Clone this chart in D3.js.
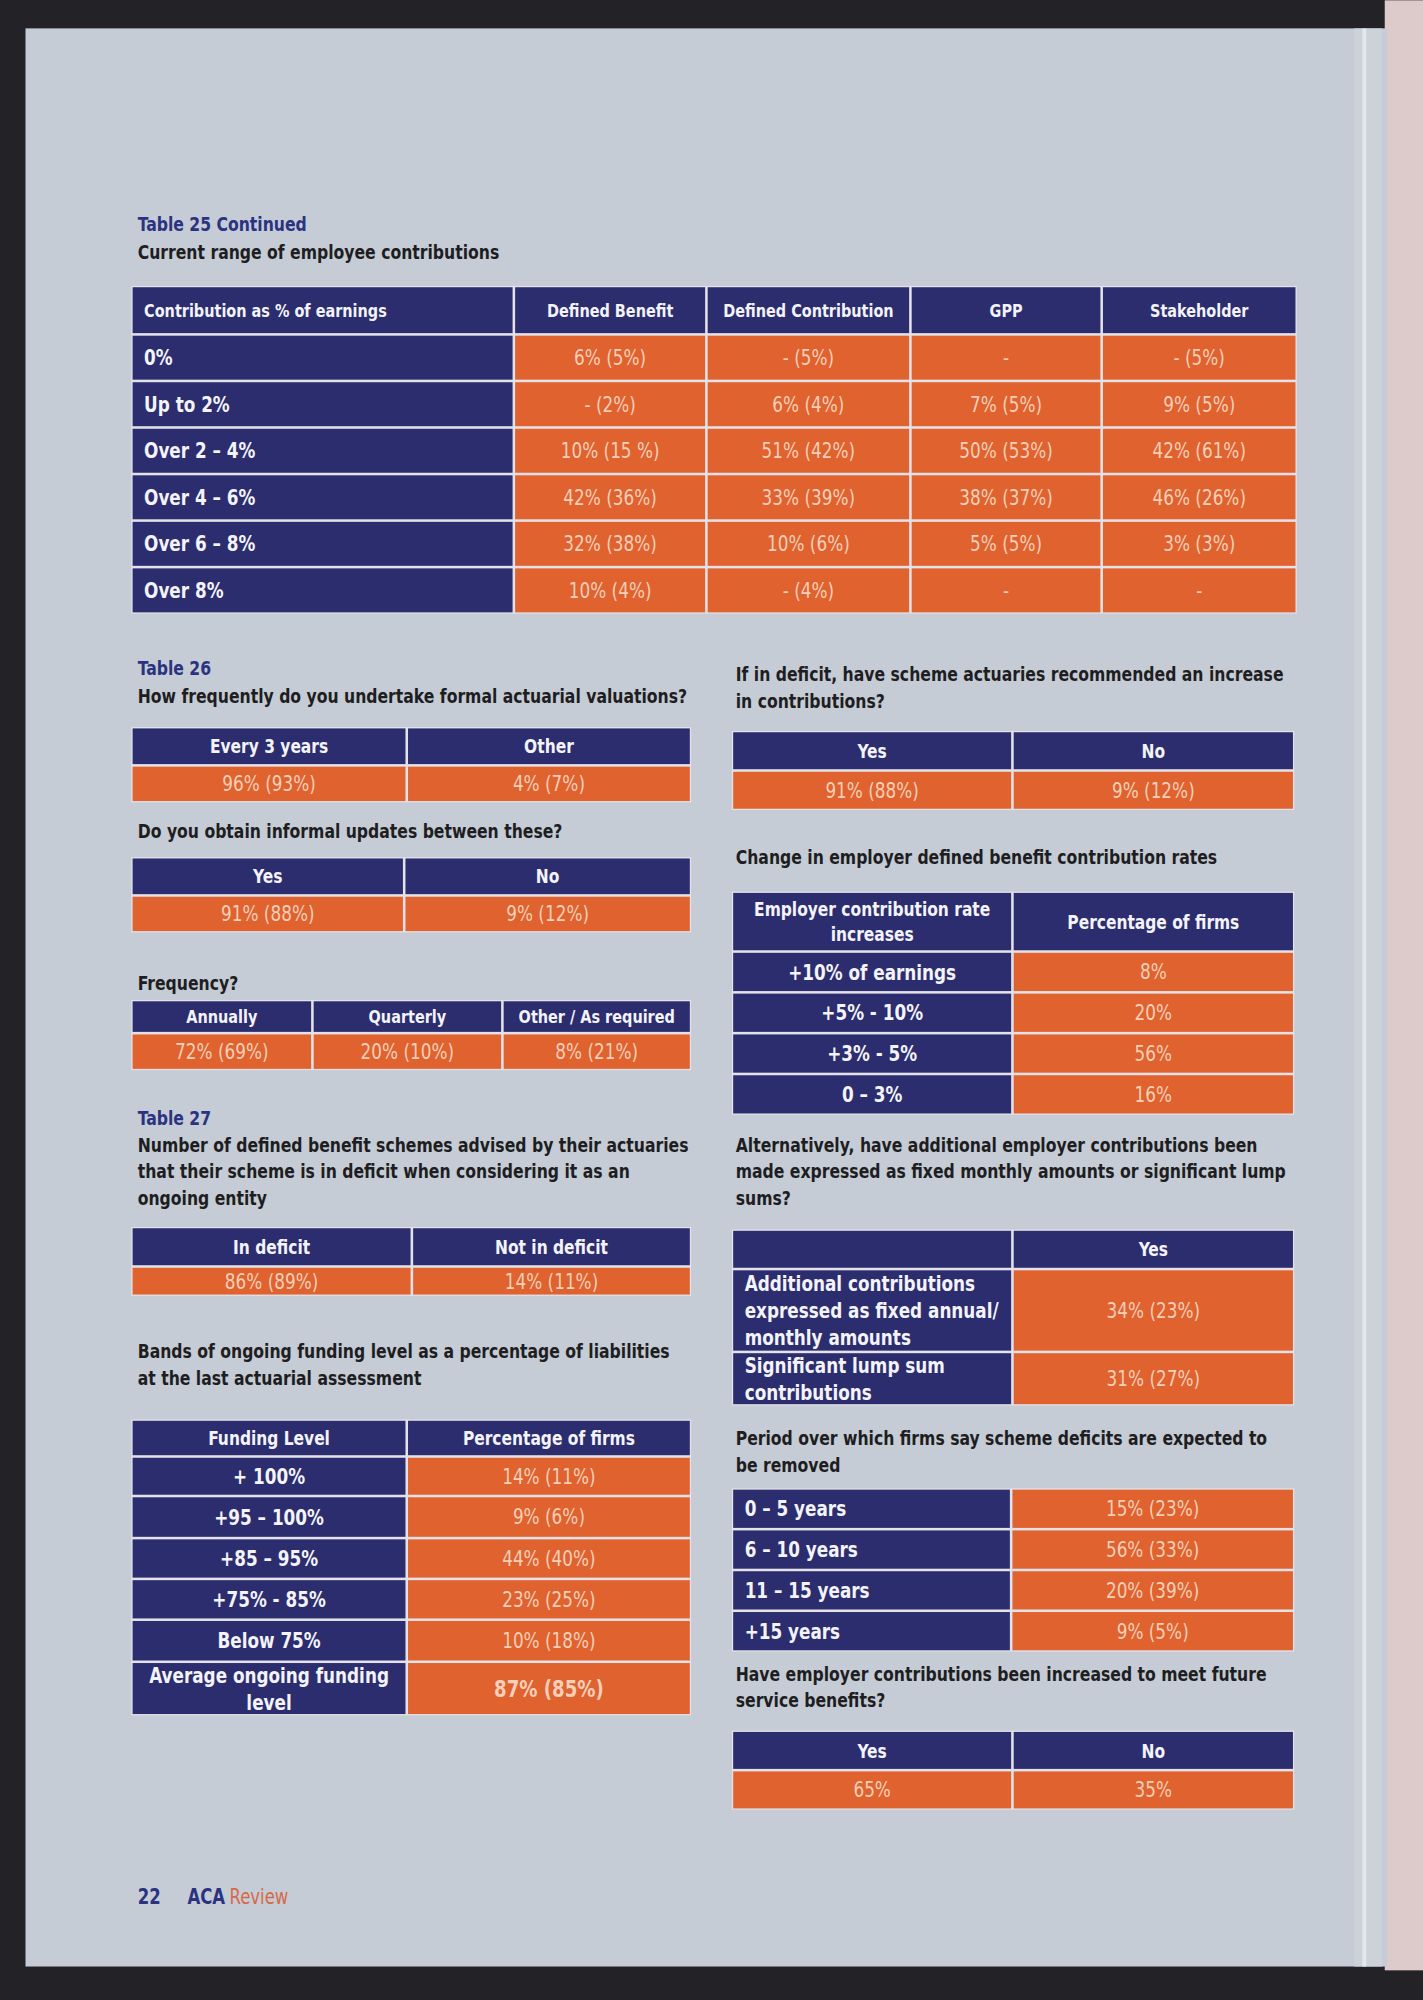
<!DOCTYPE html>
<html>
<head>
<meta charset="utf-8">
<script src="https://cdn.jsdelivr.net/npm/d3@7"></script>
<style>
  html, body { margin: 0; padding: 0; background: #222226; }
  svg { display: block; }
  text { font-family: "Liberation Sans Narrow", "DejaVu Sans Condensed", "Arial Narrow", sans-serif; font-stretch: condensed; }
</style>
</head>
<body>
<div id="page"></div>
<script>
    // table 25 - current range of employee contributions
    const t25Columns = ["Contribution as % of earnings", "Defined Benefit", "Defined Contribution", "GPP", "Stakeholder"];
    const t25Bands = ["0%", "Up to 2%", "Over 2 – 4%", "Over 4 – 6%", "Over 6 – 8%", "Over 8%"];
    const t25DB = ["6% (5%)", "- (2%)", "10% (15 %)", "42% (36%)", "32% (38%)", "10% (4%)"];
    const t25DC = ["- (5%)", "6% (4%)", "51% (42%)", "33% (39%)", "10% (6%)", "- (4%)"];
    const t25GPP = ["-", "7% (5%)", "50% (53%)", "38% (37%)", "5% (5%)", "-"];
    const t25Stake = ["- (5%)", "9% (5%)", "42% (61%)", "46% (26%)", "3% (3%)", "-"];

    // table 26
    const valFreqCols = ["Every 3 years", "Other"];
    const valFreqVals = ["96% (93%)", "4% (7%)"];
    const informalCols = ["Yes", "No"];
    const informalVals = ["91% (88%)", "9% (12%)"];
    const freqCols = ["Annually", "Quarterly", "Other / As required"];
    const freqVals = ["72% (69%)", "20% (10%)", "8% (21%)"];

    // table 27
    const deficitCols = ["In deficit", "Not in deficit"];
    const deficitVals = ["86% (89%)", "14% (11%)"];
    const fundingHead = ["Funding Level", "Percentage of firms"];
    const fundingBands = ["+ 100%", "+95 – 100%", "+85 – 95%", "+75% - 85%", "Below 75%", "Average ongoing funding\nlevel"];
    const fundingVals = ["14% (11%)", "9% (6%)", "44% (40%)", "23% (25%)", "10% (18%)", "87% (85%)"];

    // right column
    const recommendCols = ["Yes", "No"];
    const recommendVals = ["91% (88%)", "9% (12%)"];
    const rateHead = ["Employer contribution rate\nincreases", "Percentage of firms"];
    const rateBands = ["+10% of earnings", "+5% - 10%", "+3% - 5%", "0 – 3%"];
    const rateVals = ["8%", "20%", "56%", "16%"];
    const extraHead = ["", "Yes"];
    const extraTypes = ["Additional contributions\nexpressed as fixed annual/\nmonthly amounts", "Significant lump sum\ncontributions"];
    const extraVals = ["34% (23%)", "31% (27%)"];
    const periodBands = ["0 – 5 years", "6 – 10 years", "11 – 15 years", "+15 years"];
    const periodVals = ["15% (23%)", "56% (33%)", "20% (39%)", "9% (5%)"];
    const futureCols = ["Yes", "No"];
    const futureVals = ["65%", "35%"];

    // colours
    const navy = "#2b2d6e", orange = "#e0622e", peach = "#f5cfb9", rule = "#e4e2e8";
    const pageBg = "#c5ccd5", ink = "#1e1e22", titleBlue = "#2b3381";

    // drawing in scan units, scaled up to the window
    const W = 1116, H = 1568;
    const svg = d3.select("#page").append("svg")
        .attr("width", 1423).attr("height", 2000)
        .attr("viewBox", "0 0 " + W + " " + H);

    svg.append("rect").attr("width", W).attr("height", H).attr("fill", "#232327");
    svg.append("rect").attr("x", 1086).attr("y", 0).attr("width", 30).attr("height", 1545).attr("fill", "#dccbca");
    svg.append("rect").attr("x", 20).attr("y", 22).attr("width", 1068).attr("height", 1520).attr("fill", pageBg);
    svg.append("rect").attr("x", 1062).attr("y", 22).attr("width", 22).attr("height", 1520).attr("fill", "#cdd2d9");
    svg.append("line").attr("x1", 1070).attr("x2", 1070).attr("y1", 22).attr("y2", 1542)
        .attr("stroke", "#e4e7ec").attr("stroke-width", 3);

    // the print face is condensed, so each text block is squeezed sideways
    function block(parent, x, y, lines, o) {
        const t = parent.append("text")
            .attr("transform", "translate(" + x + "," + y + ") scale(" + o.f + ",1)")
            .attr("text-anchor", o.anchor || "start")
            .attr("fill", o.color).attr("font-size", o.size).attr("font-weight", o.weight || "bold");
        lines.forEach((l, i) => t.append("tspan").attr("x", 0).attr("dy", i ? o.lh : 0).text(l));
        return t;
    }

    function heading(x, y, lines, color) {
        block(svg, x, y, lines, {f: 0.88, color, size: 15.5, lh: 20.8});
    }

    const styles = {
        h: {fill: navy, color: "#f3f3f8", size: 15.5, weight: "bold", f: 0.87},
        hs: {fill: navy, color: "#f3f3f8", size: 14, weight: "bold", f: 0.9},
        l: {fill: navy, color: "#f3f3f8", size: 16.5, weight: "bold", f: 0.89},
        v: {fill: orange, color: peach, size: 16, weight: "normal", f: 0.92},
        vb: {fill: orange, color: peach, size: 18, weight: "bold", f: 0.88}
    };

    // generic table: cols = relative widths, rows = heights, cells[r][c] = {t, k, a}
    function drawTable(o) {
        const g = svg.append("g");
        const colEdge = Array.from(d3.cumsum([0].concat(o.cols)));
        const rowEdge = Array.from(d3.cumsum([0].concat(o.rows)));
        const x = d3.scaleLinear().domain([0, d3.sum(o.cols)]).range([o.x0, o.x1]);
        const y = d3.scaleLinear().domain([0, d3.sum(o.rows)]).range([o.y0, o.y0 + d3.sum(o.rows)]);

        g.append("rect").attr("x", x(0)).attr("y", y(0))
            .attr("width", x(d3.sum(o.cols)) - x(0)).attr("height", y(d3.sum(o.rows)) - y(0))
            .attr("fill", rule);

        const flat = [];
        o.cells.forEach((row, r) => row.forEach((d, c) => flat.push(Object.assign({r, c}, d))));

        g.selectAll("rect.cell").data(flat).join("rect")
            .attr("class", "cell")
            .attr("x", d => x(colEdge[d.c]) + 1)
            .attr("y", d => y(rowEdge[d.r]) + 1)
            .attr("width", d => x(colEdge[d.c + 1]) - x(colEdge[d.c]) - 2)
            .attr("height", d => y(rowEdge[d.r + 1]) - y(rowEdge[d.r]) - 2)
            .attr("fill", d => styles[d.k].fill);

        flat.filter(d => d.t).forEach(d => {
            const s = styles[d.k];
            const lines = d.t.split("\n");
            const lh = s.size * 1.28;
            const left = x(colEdge[d.c]), right = x(colEdge[d.c + 1]);
            const mid = (y(rowEdge[d.r]) + y(rowEdge[d.r + 1])) / 2;
            const tx = d.a === "start" ? left + 10 : (left + right) / 2;
            const ty = mid - (lines.length - 1) * lh / 2 + s.size * 0.36;
            block(g, tx, ty, lines, {f: s.f, anchor: d.a || "middle", color: s.color,
                size: s.size, weight: s.weight, lh});
        });
    }

    const headRow = (arr, k) => arr.map(t => ({t, k: k || "h"}));
    const valRow = arr => arr.map(t => ({t, k: "v"}));

    // ---- Table 25 ----
    heading(108, 181, ["Table 25 Continued"], titleBlue);
    heading(108, 203, ["Current range of employee contributions"], ink);
    drawTable({
        x0: 103, x1: 1017, y0: 224,
        cols: [300, 151, 160, 150, 153],
        rows: [38, 36.5, 36.5, 36.5, 36.5, 36.5, 36.5],
        cells: [t25Columns.map((t, i) => ({t, k: "hs", a: i ? "middle" : "start"}))]
            .concat(t25Bands.map((b, i) => [{t: b, k: "l", a: "start"},
                {t: t25DB[i], k: "v"}, {t: t25DC[i], k: "v"}, {t: t25GPP[i], k: "v"}, {t: t25Stake[i], k: "v"}]))
    });

    // ---- Table 26 ----
    heading(108, 529, ["Table 26"], titleBlue);
    heading(108, 551, ["How frequently do you undertake formal actuarial valuations?"], ink);
    drawTable({x0: 103, x1: 542, y0: 570, cols: [216, 223], rows: [30, 29],
        cells: [headRow(valFreqCols), valRow(valFreqVals)]});

    heading(108, 657, ["Do you obtain informal updates between these?"], ink);
    drawTable({x0: 103, x1: 542, y0: 672, cols: [214, 225], rows: [30, 29],
        cells: [headRow(informalCols), valRow(informalVals)]});

    heading(108, 776, ["Frequency?"], ink);
    drawTable({x0: 103, x1: 542, y0: 784, cols: [142, 149, 148], rows: [26, 29],
        cells: [headRow(freqCols, "hs"), valRow(freqVals)]});

    // ---- Table 27 ----
    heading(108, 882, ["Table 27"], titleBlue);
    heading(108, 903, ["Number of defined benefit schemes advised by their actuaries",
        "that their scheme is in deficit when considering it as an", "ongoing entity"], ink);
    drawTable({x0: 103, x1: 542, y0: 962, cols: [220, 219], rows: [31, 23],
        cells: [headRow(deficitCols), valRow(deficitVals)]});

    heading(108, 1065, ["Bands of ongoing funding level as a percentage of liabilities",
        "at the last actuarial assessment"], ink);
    drawTable({x0: 103, x1: 542, y0: 1113, cols: [216, 223], rows: [29, 31, 33, 32, 32, 33, 42],
        cells: [headRow(fundingHead)].concat(fundingBands.map((b, i) =>
            [{t: b, k: "l"}, {t: fundingVals[i], k: i === fundingBands.length - 1 ? "vb" : "v"}]))});

    // ---- right column ----
    heading(577, 534, ["If in deficit, have scheme actuaries recommended an increase",
        "in contributions?"], ink);
    drawTable({x0: 574, x1: 1015, y0: 573, cols: [220, 221], rows: [31, 31],
        cells: [headRow(recommendCols), valRow(recommendVals)]});

    heading(577, 677, ["Change in employer defined benefit contribution rates"], ink);
    drawTable({x0: 574, x1: 1015, y0: 699, cols: [220, 221], rows: [47, 32, 32, 32, 32],
        cells: [headRow(rateHead)].concat(rateBands.map((b, i) => [{t: b, k: "l"}, {t: rateVals[i], k: "v"}]))});

    heading(577, 903, ["Alternatively, have additional employer contributions been",
        "made expressed as fixed monthly amounts or significant lump", "sums?"], ink);
    drawTable({x0: 574, x1: 1015, y0: 964, cols: [220, 221], rows: [31, 65, 42],
        cells: [headRow(extraHead)].concat(extraTypes.map((b, i) =>
            [{t: b, k: "l", a: "start"}, {t: extraVals[i], k: "v"}]))});

    heading(577, 1133, ["Period over which firms say scheme deficits are expected to", "be removed"], ink);
    drawTable({x0: 574, x1: 1015, y0: 1167, cols: [219, 222], rows: [32, 32, 32, 32],
        cells: periodBands.map((b, i) => [{t: b, k: "l", a: "start"}, {t: periodVals[i], k: "v"}])});

    heading(577, 1318, ["Have employer contributions been increased to meet future", "service benefits?"], ink);
    drawTable({x0: 574, x1: 1015, y0: 1357, cols: [220, 221], rows: [31, 31],
        cells: [headRow(futureCols), valRow(futureVals)]});

    // footer
    block(svg, 108, 1493, ["22"], {f: 0.9, color: titleBlue, size: 16});
    block(svg, 147, 1493, ["ACA"], {f: 0.9, color: titleBlue, size: 16});
    block(svg, 180, 1493, ["Review"], {f: 0.9, color: "#d66a48", size: 16, weight: "normal"});
</script>
</body>
</html>
